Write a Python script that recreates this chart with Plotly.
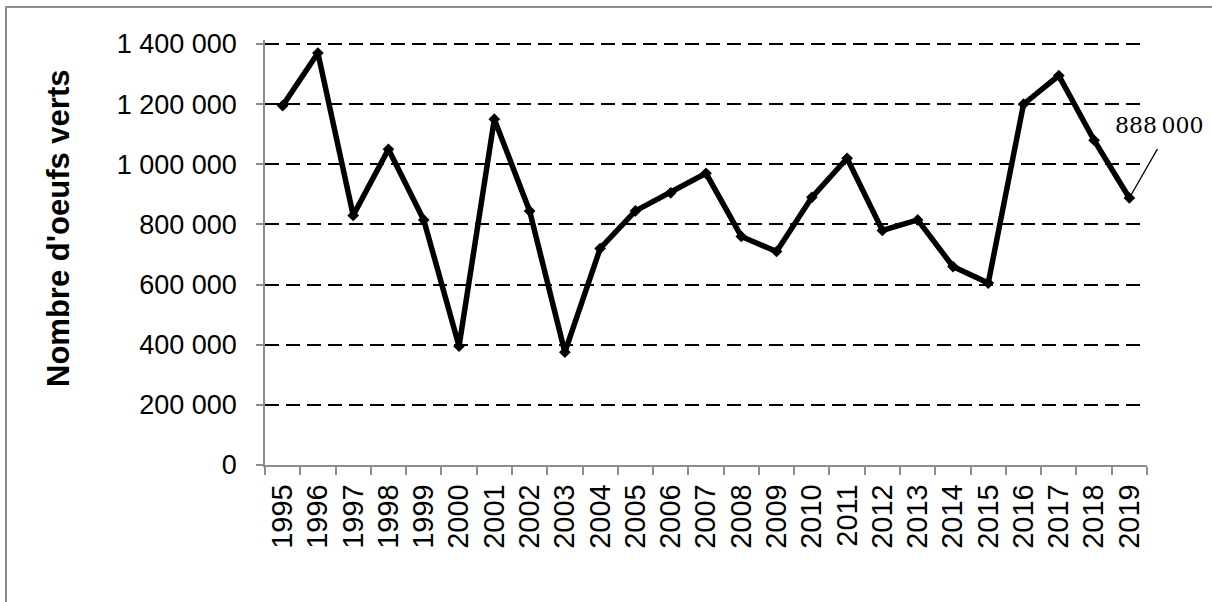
import plotly.graph_objects as go

years = [str(y) for y in range(1995, 2020)]
eggs = [1195000, 1370000, 830000, 1050000, 815000, 395000, 1150000, 845000,
        375000, 720000, 845000, 905000, 970000, 760000, 710000, 890000,
        1020000, 780000, 815000, 660000, 605000, 1200000, 1295000, 1080000,
        888000]
y_ticks = [0, 200000, 400000, 600000, 800000, 1000000, 1200000, 1400000]
y_tick_text = ["0", "200 000", "400 000", "600 000", "800 000",
               "1 000 000", "1 200 000", "1 400 000"]
last_label = "888\u2009000"
y_title = "Nombre d'oeufs verts"

W, H = 1212, 602
ML, MR, MT, MB = 265, 65, 40, 137
pw, ph = W - ML - MR, H - MT - MB
y_top = 1400000 * ph / (ph - 4)

fig = go.Figure()
fig.add_trace(go.Scatter(
    x=years, y=eggs, mode="lines+markers",
    line=dict(color="black", width=5.5),
    marker=dict(symbol="diamond", size=9, color="black"),
    showlegend=False, cliponaxis=False,
))

axis_grey = "#8c8c8c"
fig.update_layout(
    width=W, height=H,
    margin=dict(l=ML, r=MR, t=MT, b=MB),
    paper_bgcolor="white", plot_bgcolor="white",
    font=dict(family="Liberation Sans, Arial, sans-serif", color="black"),
    xaxis=dict(
        type="category", range=[-0.5, len(years) - 0.5],
        showline=True, linecolor=axis_grey, linewidth=1.5,
        ticks="outside", tickson="boundaries", ticklen=8,
        tickcolor=axis_grey, tickwidth=1.5,
        tickangle=-90, tickfont=dict(size=29),
        ticklabelstandoff=6,
        showgrid=False, zeroline=False,
    ),
    yaxis=dict(
        range=[0, y_top],
        tickvals=y_ticks, ticktext=y_tick_text,
        showline=True, linecolor=axis_grey, linewidth=1.5,
        ticks="outside", ticklen=7, tickcolor=axis_grey, tickwidth=1.5,
        tickfont=dict(size=27), ticklabelstandoff=14,
        showgrid=True, gridcolor="black", gridwidth=2, griddash="14px,7px",
        zeroline=False,
        automargin=False,
    ),
)

# y-axis title
fig.add_annotation(xref="paper", yref="paper",
                   x=(58.5 - ML) / pw, y=(H - MB - 228.5) / ph,
                   xanchor="center", yanchor="middle",
                   text="<b>" + y_title + "</b>", textangle=-90,
                   showarrow=False, font=dict(size=31, color="black"))

# outer chart border (grey frame)
fig.add_shape(type="rect", xref="paper", yref="paper",
              x0=(6 - ML) / pw, x1=(W + 10 - ML) / pw,
              y0=-(MB + 20) / ph, y1=(H - MB - 7) / ph,
              line=dict(color=axis_grey, width=2), fillcolor="rgba(0,0,0,0)",
              layer="below")

# data label for the last point with leader line
last_i = len(years) - 1
fig.add_annotation(x=last_i, y=eggs[-1], text=" ", showarrow=True,
                   arrowhead=0, arrowwidth=1.3, arrowcolor="black",
                   ax=31, ay=-54, standoff=0)
fig.add_annotation(x=last_i, y=eggs[-1], text=last_label, showarrow=False,
                   xshift=30, yshift=72,
                   font=dict(family="DejaVu Serif", size=22, color="black"))

fig.write_html("out.html",
               config={"displayModeBar": False},
               post_script="document.body.style.margin='0';"
                           "document.body.style.overflow='hidden';")
